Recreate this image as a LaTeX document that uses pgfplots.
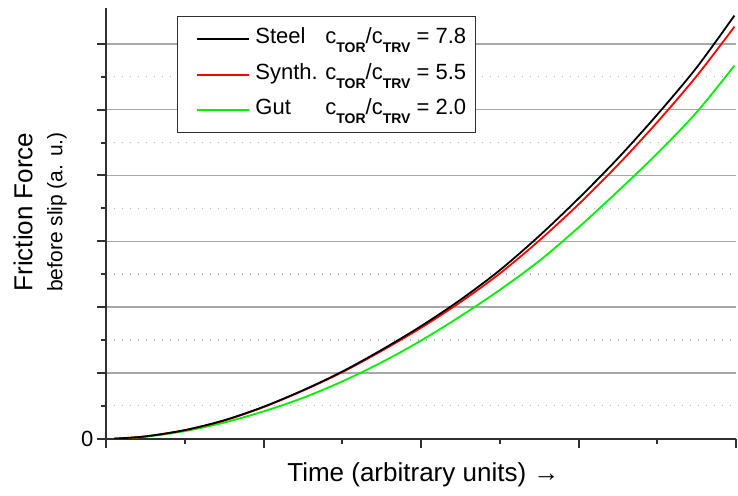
\documentclass[border=0pt]{standalone}
\usepackage{fontspec}
\setmainfont{Liberation Sans}
\usepackage{pgfplots}
\pgfplotsset{compat=1.18}
\definecolor{gridgray}{HTML}{A8A8A8}
\definecolor{axisgray}{HTML}{303030}
\definecolor{plotgreen}{HTML}{00F000}
\newcommand{\sub}[1]{\raisebox{-9pt}{\fontsize{14}{14}\selectfont\bfseries #1}}

\begin{document}
\begin{tikzpicture}
\useasboundingbox (-106pt,-56.3pt) rectangle (632pt,438.7pt);
\begin{axis}[
  scale only axis,
  width=630pt,height=430.7pt,
  xmin=0,xmax=8,ymin=0,ymax=13.09,
  axis x line*=bottom,axis y line*=left,
  axis line style={-,color=axisgray,line width=2pt},
  xtick={0,2,4,6,8},minor x tick num=1,
  ytick={0,2,4,6,8,10,12},minor y tick num=1,
  xticklabels={{},{},{},{},{}},
  yticklabels={0,{},{},{},{},{},{}},
  tick align=outside,
  major tick length=9pt,minor tick length=5pt,
  every tick/.style={color=axisgray,line width=2pt},
  ymajorgrids,yminorgrids,
  major grid style={color=gridgray,line width=1.3pt},
  minor grid style={color=gridgray!85,line width=1.4pt,dash pattern=on 1.4pt off 6.6pt},
  yticklabel style={font=\fontsize{22}{24}\selectfont},
  legend cell align=left,
  reverse legend,
  legend image code/.code={\path (0pt,0pt) (0pt,0pt);\draw[#1] (9pt,0pt) -- (61pt,0pt);},
  legend style={at={(0.1127,0.9814)},anchor=north west,
    draw=axisgray,line width=1.2pt,fill=white,
    inner xsep=9pt,inner ysep=10pt,row sep=10.5pt,column sep=6pt,
    nodes={inner sep=0pt,text height=17pt,text depth=8pt,
      font=\fontsize{22}{24}\selectfont}},
]
\addplot[plotgreen,line width=1.8pt,smooth] coordinates {
  (0.1,0) (0.5,0.06) (1,0.23) (1.5,0.49) (2,0.83) (2.5,1.24) (3,1.74)
  (3.5,2.32) (4,2.98) (4.5,3.72) (5,4.52) (5.5,5.4) (6,6.42) (6.5,7.52)
  (7,8.67) (7.5,9.92) (7.98,11.34)
};
\addlegendentry{\makebox[70pt][l]{Gut}c\sub{TOR}/c\sub{TRV} = 2.0}
\addplot[red,line width=1.8pt,smooth] coordinates {
  (0.1,0) (0.5,0.07) (1,0.26) (1.5,0.55) (2,0.96) (2.5,1.46) (3,2.02)
  (3.5,2.67) (4,3.37) (4.5,4.15) (5,5.02) (5.5,6.02) (6,7.12) (6.5,8.32)
  (7,9.62) (7.5,11.02) (7.98,12.52)
};
\addlegendentry{\makebox[70pt][l]{Synth.}c\sub{TOR}/c\sub{TRV} = 5.5}
\addplot[black,line width=1.8pt,smooth] coordinates {
  (0.1,0) (0.5,0.07) (1,0.26) (1.5,0.56) (2,0.97) (2.5,1.47) (3,2.04)
  (3.5,2.7) (4,3.42) (4.5,4.22) (5,5.12) (5.5,6.16) (6,7.3) (6.5,8.52)
  (7,9.85) (7.5,11.28) (7.98,12.86)
};
\addlegendentry{\makebox[70pt][l]{Steel}c\sub{TOR}/c\sub{TRV} = 7.8}
\end{axis}
\node[rotate=90,font=\fontsize{26}{30}\selectfont] at (-83pt,226.7pt) {Friction Force};
\node[rotate=90,font=\fontsize{21}{24}\selectfont] at (-49pt,226.7pt) {before slip (a. u.)};
\node[font=\fontsize{26}{30}\selectfont] at (317.4pt,-36.3pt) {Time (arbitrary units) →};
\end{tikzpicture}
\end{document}
